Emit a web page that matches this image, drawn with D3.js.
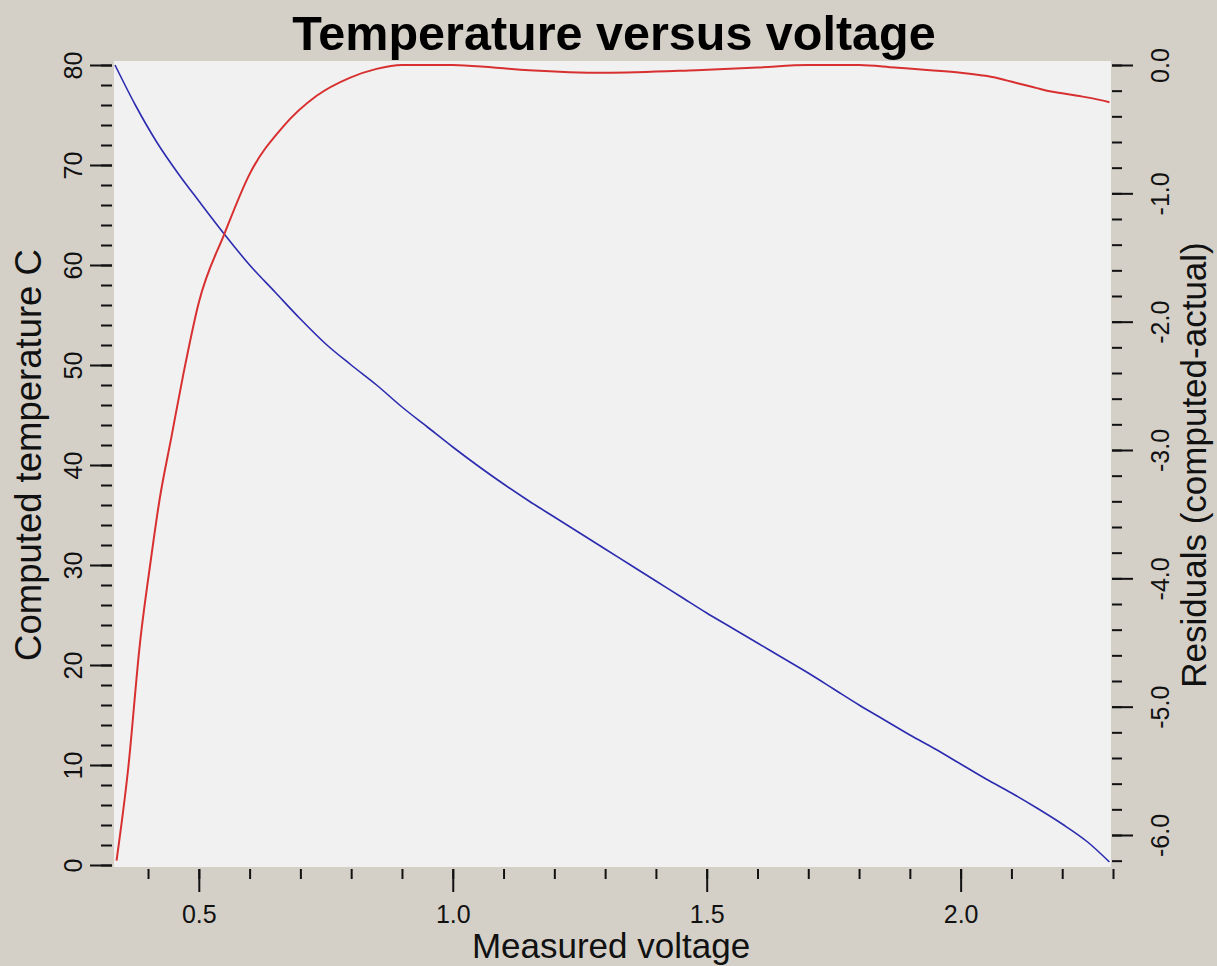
<!DOCTYPE html>
<html>
<head>
<meta charset="utf-8">
<script src="https://cdn.jsdelivr.net/npm/d3@7"></script>
<style>
  html, body { margin: 0; padding: 0; background: #d4d0c8; }
  svg { display: block; font-family: "Liberation Sans", Arial, sans-serif; }
</style>
</head>
<body>
<svg id="chart" width="1217" height="966"></svg>
<script>
// measured voltage vs computed temperature (left axis)
var tempVolt = [0.335, 0.375, 0.417, 0.46, 0.5, 0.55, 0.6, 0.65, 0.7, 0.75, 0.8, 0.85, 0.9, 0.95,
                1.0, 1.05, 1.1, 1.15, 1.2, 1.25, 1.3, 1.35, 1.4, 1.45, 1.5, 1.55, 1.6, 1.65, 1.7,
                1.75, 1.8, 1.85, 1.9, 1.95, 2.0, 2.05, 2.1, 2.15, 2.2, 2.25, 2.293];
var temperature = [80.0, 76.0, 72.3, 69.1, 66.4, 63.1, 60.0, 57.3, 54.6, 52.1, 50.0, 48.0, 45.8, 43.8,
                   41.8, 39.9, 38.1, 36.4, 34.8, 33.2, 31.6, 30.0, 28.4, 26.8, 25.2, 23.7, 22.2, 20.7, 19.2,
                   17.6, 16.0, 14.5, 13.0, 11.6, 10.1, 8.6, 7.2, 5.7, 4.1, 2.3, 0.3];

// residuals (right axis)
var residVolt = [0.338, 0.361, 0.384, 0.404, 0.423, 0.446, 0.469, 0.5, 0.551, 0.6, 0.666, 0.732, 0.797,
                 0.85, 0.9, 1.0, 1.08, 1.15, 1.3, 1.48, 1.6, 1.7, 1.8, 1.87, 1.94, 2.0, 2.04, 2.07,
                 2.09, 2.11, 2.13, 2.15, 2.17, 2.2, 2.23, 2.26, 2.293];
var residual = [-6.2, -5.48, -4.51, -3.9, -3.38, -2.9, -2.42, -1.85, -1.31, -0.85, -0.48, -0.24, -0.10,
                -0.03, 0.0, 0.0, -0.02, -0.04, -0.06, -0.04, -0.02, 0.0, 0.0, -0.02, -0.04, -0.06, -0.08, -0.10,
                -0.12, -0.14, -0.16, -0.18, -0.20, -0.22, -0.24, -0.26, -0.29];

var xTicks = [0.5, 1.0, 1.5, 2.0];
var leftTicks = [0, 10, 20, 30, 40, 50, 60, 70, 80];
var rightTicks = [0, -1, -2, -3, -4, -5, -6];

var svg = d3.select("#chart");

var plot = {left: 114, right: 1111, top: 61, bottom: 867};

var x = d3.scaleLinear().domain([0.333, 2.3]).range([114, 1113]);
var yL = d3.scaleLinear().domain([0, 80]).range([865, 65]);
var yR = d3.scaleLinear().domain([-6, 0]).range([835, 65]);

svg.append("rect")
    .attr("x", plot.left).attr("y", plot.top)
    .attr("width", plot.right - plot.left).attr("height", plot.bottom - plot.top)
    .attr("fill", "#f1f1f1");

svg.append("clipPath").attr("id", "clip")
  .append("rect")
    .attr("x", plot.left).attr("y", plot.top)
    .attr("width", plot.right - plot.left).attr("height", plot.bottom - plot.top);

function fmt(d) { return d.toFixed(1); }

function styleAxis(g) {
    g.select(".domain").remove();
    g.selectAll(".tick line").attr("stroke", "#111").attr("stroke-width", 2);
    g.selectAll("text").attr("font-size", 25).attr("fill", "#111")
        .attr("font-family", "'Liberation Sans', Arial, sans-serif");
}

// bottom axis
svg.append("g").attr("transform", "translate(0," + (plot.bottom + 2) + ")")
    .call(d3.axisBottom(x).tickValues(x.ticks(20)).tickSize(10).tickFormat(""))
    .call(styleAxis);
svg.append("g").attr("transform", "translate(0," + (plot.bottom + 2) + ")")
    .call(d3.axisBottom(x).tickValues(xTicks).tickSize(23).tickFormat(fmt))
    .call(styleAxis)
    .selectAll("text")
    .attr("y", 36);

// left axis
svg.append("g").attr("transform", "translate(" + (plot.left - 2) + ",0)")
    .call(d3.axisLeft(yL).tickValues(yL.ticks(40)).tickSize(11).tickFormat(""))
    .call(styleAxis);
svg.append("g").attr("transform", "translate(" + (plot.left - 2) + ",0)")
    .call(d3.axisLeft(yL).tickValues(leftTicks).tickSize(22).tickFormat(function (d) { return d; }))
    .call(styleAxis)
    .selectAll("text")
    .attr("transform", "rotate(-90)")
    .attr("x", 0).attr("dy", null).attr("y", -30)
    .attr("text-anchor", "middle");

// right axis
svg.append("g").attr("transform", "translate(" + (plot.right + 1) + ",0)")
    .call(d3.axisRight(yR).tickValues(yR.ticks(30).concat([-6.2])).tickSize(10).tickFormat(""))
    .call(styleAxis);
svg.append("g").attr("transform", "translate(" + (plot.right + 1) + ",0)")
    .call(d3.axisRight(yR).tickValues(rightTicks).tickSize(21).tickFormat(fmt))
    .call(styleAxis)
    .selectAll("text")
    .attr("transform", "rotate(-90)")
    .attr("x", 0).attr("dy", null).attr("y", 57)
    .attr("text-anchor", "middle");

// lines
var lines = svg.append("g").attr("clip-path", "url(#clip)");

lines.append("path")
    .datum(d3.zip(tempVolt, temperature))
    .attr("fill", "none")
    .attr("stroke", "#2b2bb0")
    .attr("stroke-width", 1.6)
    .attr("d", d3.line().x(function (d) { return x(d[0]); }).y(function (d) { return yL(d[1]); }).curve(d3.curveMonotoneX));

lines.append("path")
    .datum(d3.zip(residVolt, residual))
    .attr("fill", "none")
    .attr("stroke", "#d83030")
    .attr("stroke-width", 2)
    .attr("d", d3.line().x(function (d) { return x(d[0]); }).y(function (d) { return yR(d[1]); }).curve(d3.curveMonotoneX));

// titles
svg.append("text")
    .attr("x", 614).attr("y", 50)
    .attr("text-anchor", "middle")
    .attr("font-size", 48.5).attr("font-weight", "bold").attr("fill", "#000")
    .text("Temperature versus voltage");

svg.append("text")
    .attr("x", 611).attr("y", 958)
    .attr("text-anchor", "middle")
    .attr("font-size", 35).attr("fill", "#111")
    .text("Measured voltage");

svg.append("text")
    .attr("transform", "translate(41,455) rotate(-90)")
    .attr("text-anchor", "middle")
    .attr("font-size", 36.5).attr("fill", "#111")
    .text("Computed temperature C");

svg.append("text")
    .attr("transform", "translate(1206,465) rotate(-90)")
    .attr("text-anchor", "middle")
    .attr("font-size", 35).attr("fill", "#111")
    .text("Residuals (computed-actual)");
</script>
</body>
</html>
